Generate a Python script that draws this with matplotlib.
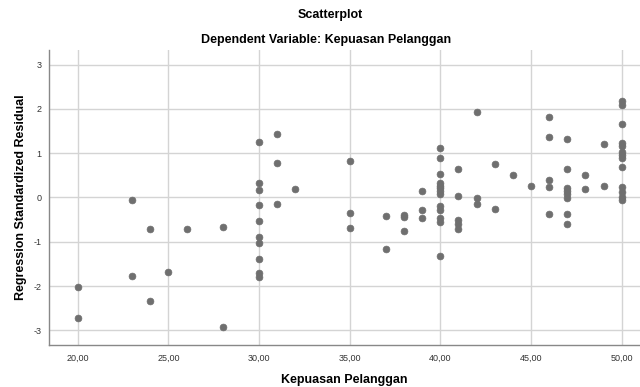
import matplotlib
matplotlib.use("Agg")
import matplotlib.pyplot as plt

plt.rcParams['font.family'] = ['Liberation Sans', 'DejaVu Sans']

# Data (x = Kepuasan Pelanggan, y = standardized residual)
x20 = [20, 20]
y20 = [-2.02, -2.73]
x_low = [23, 23, 24, 24, 25, 26, 28, 28]
y_low = [-0.05, -1.77, -0.72, -2.34, -1.68, -0.72, -0.67, -2.92]
x30 = [30] * 10
y30 = [1.25, 0.32, 0.17, -0.18, -0.54, -0.89, -1.02, -1.39, -1.71, -1.80]
x31_39 = [31, 31, 31, 32, 35, 35, 35, 37, 37, 38, 38, 38, 39, 39, 39]
y31_39 = [1.43, 0.78, -0.14, 0.20, 0.83, -0.34, -0.68, -0.41, -1.17,
          -0.39, -0.43, -0.75, 0.14, -0.28, -0.47]
x40 = [40] * 13
y40 = [1.11, 0.89, 0.53, 0.33, 0.27, 0.21, 0.15, 0.08, -0.20, -0.29,
       -0.47, -0.56, -1.33]
x41_49 = [41, 41, 41, 41, 41, 42, 42, 42, 43, 43, 44, 45,
          46, 46, 46, 46, 46, 47, 47, 47, 47, 47, 47, 47, 47,
          48, 48, 49, 49]
y41_49 = [0.64, 0.03, -0.50, -0.61, -0.72, 1.94, -0.02, -0.15, 0.76, -0.27,
          0.51, 0.27, 1.82, 1.36, 0.40, 0.24, -0.37,
          1.32, 0.64, 0.21, 0.14, 0.07, -0.01, -0.38, -0.59,
          0.50, 0.20, 1.20, 0.26]
x50 = [50] * 13
y50 = [2.18, 2.09, 1.67, 1.22, 1.17, 1.03, 0.97, 0.90, 0.69, 0.23, 0.12,
       0.01, -0.05]

xs = x20 + x_low + x30 + x31_39 + x40 + x41_49 + x50
ys = y20 + y_low + y30 + y31_39 + y40 + y41_49 + y50

x_ticks = [20, 25, 30, 35, 40, 45, 50]
x_tick_labels = ["20,00", "25,00", "30,00", "35,00", "40,00", "45,00", "50,00"]
y_ticks = [-3, -2, -1, 0, 1, 2, 3]
y_tick_labels = ["-3", "-2", "-1", "0", "1", "2", "3"]

fig = plt.figure(figsize=(6.4, 3.87), dpi=100)
ax = fig.add_axes([0.0758, 0.1098, 0.9242, 0.7622])

ax.set_xlim(18.39, 51.01)
ax.set_ylim(-3.32, 3.34)
ax.set_xticks(x_ticks)
ax.set_xticklabels(x_tick_labels)
ax.set_yticks(y_ticks)
ax.set_yticklabels(y_tick_labels)
ax.grid(True, color='#d4d4d4', linewidth=1.0)
ax.set_axisbelow(True)

ax.scatter(xs, ys, s=24, color='#6f6f6f', edgecolors='#6f6f6f',
           linewidths=0.5, zorder=3)

for side in ['top', 'right']:
    ax.spines[side].set_visible(False)
for side in ['left', 'bottom']:
    ax.spines[side].set_color('#888888')
    ax.spines[side].set_linewidth(1.0)

ax.tick_params(axis='both', length=0, labelsize=6.5, colors='#333333')
ax.tick_params(axis='x', pad=7)
ax.tick_params(axis='y', pad=5)

ax.set_xlabel("Kepuasan Pelanggan", fontsize=9, fontweight='bold', labelpad=8)
ax.set_ylabel("Regression Standardized Residual", fontsize=9,
              fontweight='bold', labelpad=5)

fig.text(330 / 640, 1 - 15 / 387, "Scatterplot", ha='center', va='center',
         fontsize=9, fontweight='bold')
fig.text(326 / 640, 1 - 40 / 387, "Dependent Variable: Kepuasan Pelanggan",
         ha='center', va='center', fontsize=9, fontweight='bold')

fig.savefig("out.png", dpi=100)
